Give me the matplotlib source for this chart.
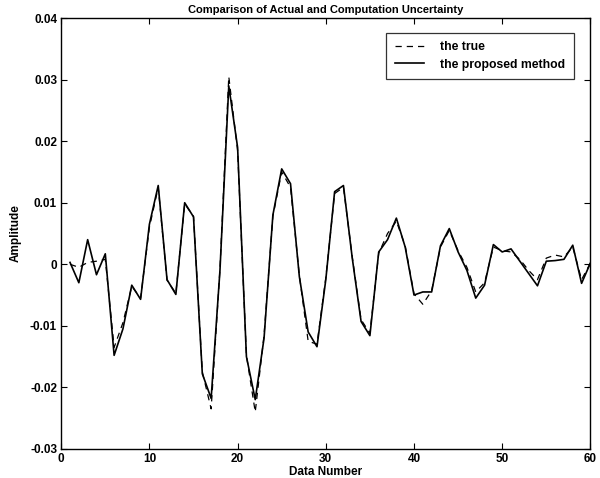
import matplotlib
matplotlib.use('Agg')
from matplotlib import pyplot as plt
import numpy as np

# data number 1..60
data_number = list(range(1, 61))

# solid line: the proposed method
proposed = [0.0003, -0.0030, 0.0040, -0.0017, 0.0017, -0.0148, -0.0105, -0.0034, -0.0057, 0.0065,
            0.0128, -0.0025, -0.0049, 0.0100, 0.0077, -0.0178, -0.0218, -0.0010, 0.0290, 0.0190,
            -0.0150, -0.0220, -0.0120, 0.0080, 0.0155, 0.0131, -0.0020, -0.0110, -0.0134, -0.0025,
            0.0118, 0.0128, 0.0010, -0.0093, -0.0116, 0.0020, 0.0040, 0.0075, 0.0028, -0.0050,
            -0.0045, -0.0045, 0.0030, 0.0058, 0.0020, -0.0010, -0.0055, -0.0034, 0.0032, 0.0020,
            0.0025, 0.0005, -0.0015, -0.0035, 0.0005, 0.0006, 0.0008, 0.0031, -0.0031, 0.0002]

# dashed line: the true
true_vals = [0.0000, -0.0005, 0.0003, 0.0005, 0.0008, -0.0135, -0.0095, -0.0036, -0.0055, 0.0060,
             0.0125, -0.0026, -0.0047, 0.0098, 0.0078, -0.0175, -0.0235, -0.0008, 0.0305, 0.0185,
             -0.0148, -0.0240, -0.0115, 0.0078, 0.0150, 0.0125, -0.0018, -0.0125, -0.0130, -0.0022,
             0.0115, 0.0125, 0.0012, -0.0090, -0.0112, 0.0018, 0.0050, 0.0070, 0.0030, -0.0048,
             -0.0065, -0.0043, 0.0028, 0.0055, 0.0022, -0.0005, -0.0045, -0.0030, 0.0028, 0.0022,
             0.0020, 0.0008, -0.0010, -0.0025, 0.0010, 0.0015, 0.0012, 0.0028, -0.0025, 0.0002]

xticks = [0, 10, 20, 30, 40, 50, 60]
yticks = [-0.03, -0.02, -0.01, 0, 0.01, 0.02, 0.03, 0.04]
ytick_labels = ['-0.03', '-0.02', '-0.01', '0', '0.01', '0.02', '0.03', '0.04']

plt.rcParams['font.family'] = ['Liberation Sans', 'DejaVu Sans']
plt.rcParams['font.weight'] = 'bold'

fig = plt.figure(figsize=(6, 4.78), dpi=100)
ax = fig.add_axes([0.102, 0.061, 0.882, 0.901])

ax.plot(data_number, true_vals, color='black', linestyle=(0, (5, 4)), linewidth=0.9, label='the true')
ax.plot(data_number, proposed, color='black', linestyle='-', linewidth=1.2, label='the proposed method')

ax.set_xlim(0, 60)
ax.set_ylim(-0.03, 0.04)
ax.set_xticks(xticks)
ax.set_xticklabels([str(t) for t in xticks], fontsize=8.5, fontweight='bold')
ax.set_yticks(yticks)
ax.set_yticklabels(ytick_labels, fontsize=8.5, fontweight='bold')
ax.tick_params(direction='in', top=True, right=True, length=4, width=0.8, pad=3)
for s in ax.spines.values():
    s.set_linewidth(1.0)

ax.set_xlabel('Data Number', fontsize=8.5, fontweight='bold', labelpad=1)
ax.set_ylabel('Amplitude', fontsize=8.5, fontweight='bold', labelpad=6)
ax.set_title('Comparison of Actual and Computation Uncertainty', fontsize=8, fontweight='bold', pad=4)

leg = ax.legend(loc='upper right', bbox_to_anchor=(0.975, 0.975), fontsize=8.8, frameon=True,
                fancybox=False, edgecolor='black', handlelength=2.4, borderpad=0.7,
                labelspacing=0.45, handletextpad=1.3, borderaxespad=0.3)
leg.get_frame().set_linewidth(0.9)
for t in leg.get_texts():
    t.set_fontweight('bold')

fig.savefig('out.png', dpi=100)
